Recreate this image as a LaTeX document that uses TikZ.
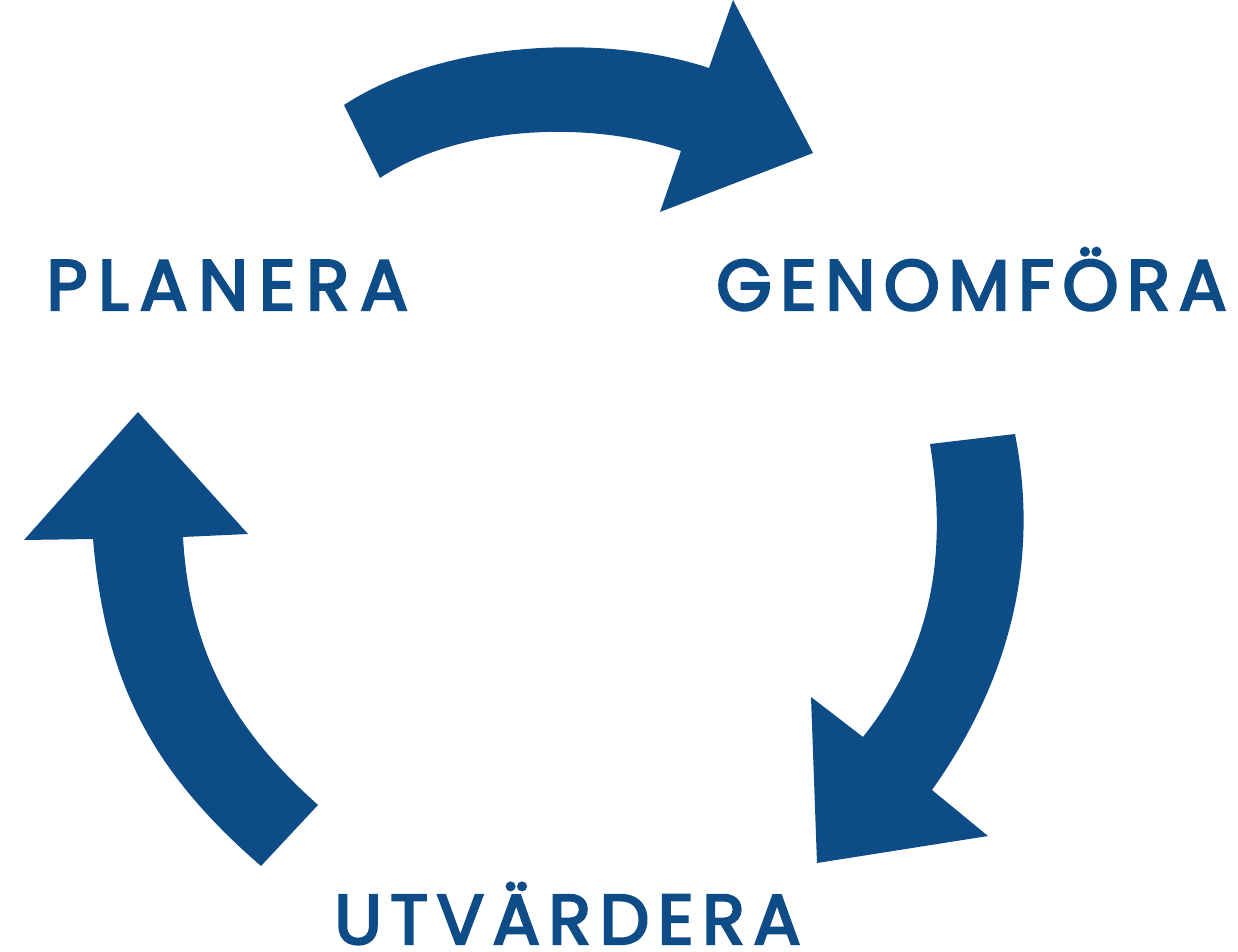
\documentclass[tikz,border=0pt]{standalone}
\usepackage{fontspec}
\newfontfamily\phasefont[LetterSpace=12, FakeBold=3.5]{Poppins}
\newfontfamily\phasewidefont[LetterSpace=15, FakeBold=3.5]{Poppins}
\definecolor{cycleblue}{HTML}{0D4C87}
\begin{document}
\begin{tikzpicture}[x=0.02cm, y=-0.02cm,
  cyclearrow/.style={fill=cycleblue, draw=none},
  phaselabel/.style={inner sep=0pt, anchor=base west, text=cycleblue,
    font=\phasefont\fontsize{40.5}{40}\selectfont}]

\useasboundingbox (0,0) rectangle (1238,952);

% ----------------------------------------------------
% 1. Labels
% ----------------------------------------------------
\node[phaselabel, font=\phasewidefont\fontsize{40.5}{40}\selectfont] (planera) at (46,310) {PLANERA};
\node[phaselabel] (genomfora) at (716,310) {GENOMFÖRA};
\node[phaselabel, font=\phasefont\fontsize{40}{40}\selectfont] (utvardera) at (334,944) {UTVÄRDERA};

% ----------------------------------------------------
% 2. Arrows
% ----------------------------------------------------
% Top arrow: planera -> genomfora
\fill[cyclearrow] (344,105) .. controls (440,42) and (600,32) .. (709,68)
  -- (733,0) -- (813,153) -- (660,212) -- (681,151)
  .. controls (590,120) and (460,125) .. (380,178) -- cycle;

% Right arrow: genomfora -> utvardera
\fill[cyclearrow] (930,444) .. controls (948,555) and (932,650) .. (863,737)
  -- (811,697) -- (817,863) -- (988,836) -- (932,790)
  .. controls (1010,680) and (1040,560) .. (1015,434) -- cycle;

% Left arrow: utvardera -> planera
\fill[cyclearrow] (261,866) .. controls (150,770) and (105,680) .. (93,539)
  -- (24,540) -- (138,412) -- (248,534) -- (183,537)
  .. controls (190,660) and (240,735) .. (318,805) -- cycle;

\end{tikzpicture}
\end{document}
